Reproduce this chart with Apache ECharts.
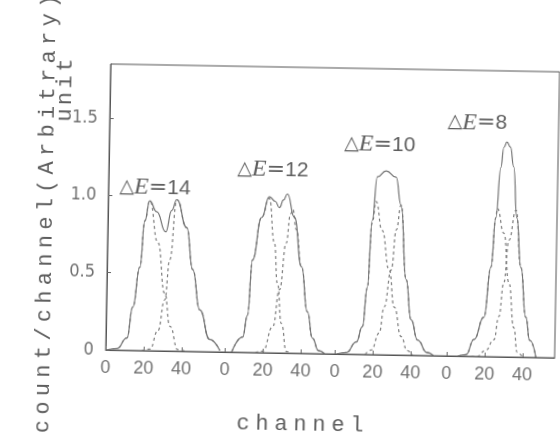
<!DOCTYPE html>
<html>
<head>
<meta charset="utf-8">
<script src="https://cdn.jsdelivr.net/npm/echarts@6/dist/echarts.min.js"></script>
<style>
  html, body { margin: 0; padding: 0; background: #fff; overflow: hidden; }
  #chart { width: 560px; height: 436px; transform: rotate(1deg); transform-origin: 280px 218px; }
</style>
</head>
<body>
<div id="chart"></div>
<script>
// Four spectra laid side by side on one channel axis; each panel restarts at channel 0.
const panelOrigins = [0, 63, 121, 180];
const panelTicks = [0, 20, 40];
const energyGaps = ['14', '12', '10', '8'];
const yTicks = [0, 0.5, 1.0, 1.5];

// [channel, counts] — measured sum curve and the two fitted components per panel
const sum14 = [[0.7,0],[5.9,0.01],[11.1,0.08],[13.9,0.28],[17.3,0.54],[19.5,0.84],[21.9,0.97],[25.7,0.90],[30.6,0.77],[33.6,0.91],[36.2,0.98],[41.7,0.80],[45.2,0.53],[49.3,0.27],[54.8,0.08],[60.2,0.01]];
const low14 = [[0.7,0],[5.9,0.01],[11.1,0.08],[13.9,0.28],[17.3,0.54],[19.5,0.84],[21.9,0.97],[26.6,0.70],[30.7,0.37],[33.7,0.16],[38.1,0.01],[42,0]];
const high14 = [[19,0],[23.3,0.01],[27.4,0.13],[30.7,0.33],[33.0,0.59],[36.2,0.98],[41.7,0.80],[45.2,0.53],[49.3,0.27],[54.8,0.08],[60.2,0.01]];

const sum12 = [[3.5,0],[9.2,0.10],[11.5,0.24],[13.7,0.60],[18.1,0.875],[22.0,1.01],[25.2,0.98],[27.4,0.94],[29.5,0.99],[31.5,1.03],[35.4,0.88],[39.6,0.56],[43.1,0.27],[46.0,0.10],[49.3,0.02],[52.5,0]];
const low12 = [[3.5,0],[9.2,0.10],[11.5,0.24],[13.7,0.60],[18.1,0.875],[22.0,1.0],[25.1,0.71],[27.0,0.45],[29.5,0.19],[32.4,0.01],[35,0]];
const high12 = [[16,0],[19.9,0.01],[25.0,0.17],[28.2,0.41],[31.3,0.71],[33.3,0.90],[34.5,0.93],[36.5,0.80],[39.6,0.56],[43.1,0.27],[46.0,0.10],[49.3,0.02],[52.5,0]];

const sum10 = [[1,0],[6.0,0.01],[11.2,0.08],[14.3,0.18],[16.5,0.435],[18.5,0.87],[20.8,1.15],[25.4,1.19],[30.7,1.15],[33.6,0.97],[36.9,0.49],[39.9,0.23],[43.5,0.10],[48.6,0.02],[52,0]];
const low10 = [[1,0],[6.0,0.01],[11.2,0.08],[14.3,0.18],[16.5,0.43],[18.5,0.85],[20.4,0.99],[23.8,0.805],[27.9,0.55],[30.9,0.31],[34.8,0.12],[38.1,0.03],[41,0]];
const high10 = [[16,0],[19.2,0.03],[23.2,0.14],[25.6,0.31],[29.0,0.55],[31.3,0.81],[33.6,0.97],[36.9,0.49],[39.9,0.23],[43.5,0.10],[48.6,0.02],[52,0]];

const sum8 = [[6,0],[10.2,0.01],[14.3,0.11],[19.3,0.255],[22.6,0.58],[24.7,0.90],[26.9,1.225],[28.3,1.355],[29.9,1.39],[31.8,1.357],[33.7,1.23],[35.8,0.90],[38.4,0.58],[41.4,0.26],[43.7,0.11],[47.1,0]];
const low8 = [[6,0],[10.2,0.01],[14.3,0.11],[19.3,0.255],[22.6,0.58],[24.7,0.90],[25.4,0.96],[29.1,0.80],[32.2,0.48],[35.2,0.19],[37.2,0.03],[40,0]];
const high8 = [[13,0],[16.0,0.0],[20.5,0.04],[24.8,0.11],[27.2,0.26],[29.5,0.48],[31.8,0.755],[35.3,0.95],[38.4,0.58],[41.4,0.26],[43.7,0.11],[47.1,0]];

const panels = [
  { sum: sum14, low: low14, high: high14 },
  { sum: sum12, low: low12, high: high12 },
  { sum: sum10, low: low10, high: high10 },
  { sum: sum8,  low: low8,  high: high8 }
];

const textInk = '#5e5e5e';

function curve(points, origin, dashed) {
  return {
    type: 'line',
    data: points.map(p => [origin + p[0], p[1]]),
    showSymbol: false,
    smooth: 0.5,
    smoothMonotone: 'x',
    silent: true,
    lineStyle: dashed
      ? { color: '#7c7c7c', width: 1.2, type: [3, 3] }
      : { color: '#727272', width: 1.2 }
  };
}

const series = [];
panels.forEach((p, i) => {
  const o = panelOrigins[i];
  series.push(curve(p.low, o, true), curve(p.high, o, true), curve(p.sum, o, false));
});

const xTickValues = [];
panelOrigins.forEach(o => panelTicks.forEach(t => xTickValues.push(o + t)));

function localChannel(v) {
  let o = panelOrigins[0];
  panelOrigins.forEach(po => { if (v >= po - 0.001) o = po; });
  return String(Math.round(v - o));
}

// Typewriter-style lettering: each glyph followed by a narrow gap
function spaced(text, gap) {
  return text.split('').map(c => '{t|' + c + '}').join('{' + gap + '| }');
}
const typeRich = {
  t:  { fontFamily: 'Liberation Mono', fontSize: 22, fill: textInk },
  g:  { fontFamily: 'Liberation Mono', fontSize: 8.8 },
  gu: { fontFamily: 'Liberation Mono', fontSize: 5.8 },
  gc: { fontFamily: 'Liberation Mono', fontSize: 9.7 }
};

const gapRich = {
  tri: { fontFamily: 'DejaVu Sans', fontSize: 19, fill: textInk },
  e:   { fontFamily: 'Liberation Serif', fontStyle: 'italic', fontSize: 24, fill: textInk },
  eq:  { fontFamily: 'DejaVu Sans', fontSize: 22, fill: textInk },
  n:   { fontFamily: 'Liberation Sans', fontSize: 21, fill: textInk }
};
const gapLabelPos = [[119, 190], [236.5, 170], [343, 143], [446, 119.5]];

const graphic = [
  {
    type: 'text', x: 46, y: 218, rotation: Math.PI / 2,
    style: { text: spaced('count/channel(Arbitrary)', 'g'), rich: typeRich,
             align: 'center', verticalAlign: 'middle' }
  },
  {
    type: 'text', x: 63, y: 94, rotation: Math.PI / 2,
    style: { text: spaced('unit', 'gu'), rich: typeRich,
             align: 'center', verticalAlign: 'middle' }
  },
  {
    type: 'text', x: 303.6, y: 423.7,
    style: { text: spaced('channel', 'gc'), rich: typeRich,
             align: 'center', verticalAlign: 'middle' }
  }
];
energyGaps.forEach((g, i) => {
  graphic.push({
    type: 'text', x: gapLabelPos[i][0], y: gapLabelPos[i][1],
    style: { text: '{tri|△}{e|E}{eq|=}{n|' + g + '}', rich: gapRich,
             align: 'left', verticalAlign: 'middle' }
  });
});

const chart = echarts.init(document.getElementById('chart'), null, { renderer: 'canvas' });
chart.setOption({
  animation: false,
  backgroundColor: '#fff',
  grid: { left: 108, right: 3, top: 67, bottom: 83, show: true, borderColor: '#555', borderWidth: 1 },
  xAxis: {
    type: 'value', min: 0, max: 237,
    splitLine: { show: false },
    axisLine: { lineStyle: { color: '#555' } },
    axisTick: { inside: true, length: 4, customValues: xTickValues, lineStyle: { color: '#666' } },
    axisLabel: {
      customValues: xTickValues, formatter: localChannel,
      fontFamily: 'Liberation Sans', fontSize: 18, color: '#707070', margin: 9
    }
  },
  yAxis: {
    type: 'value', min: 0, max: 1.85,
    splitLine: { show: false },
    axisLine: { lineStyle: { color: '#555' } },
    axisTick: { inside: true, length: 4, customValues: yTicks, lineStyle: { color: '#666' } },
    axisLabel: {
      customValues: yTicks,
      formatter: v => (v === 0 ? '0' : v.toFixed(1)),
      fontFamily: "'Liberation Sans Narrow', 'DejaVu Sans Condensed', sans-serif",
      fontSize: 18, color: '#707070', margin: 12
    }
  },
  series: series,
  graphic: graphic
});
</script>
</body>
</html>
